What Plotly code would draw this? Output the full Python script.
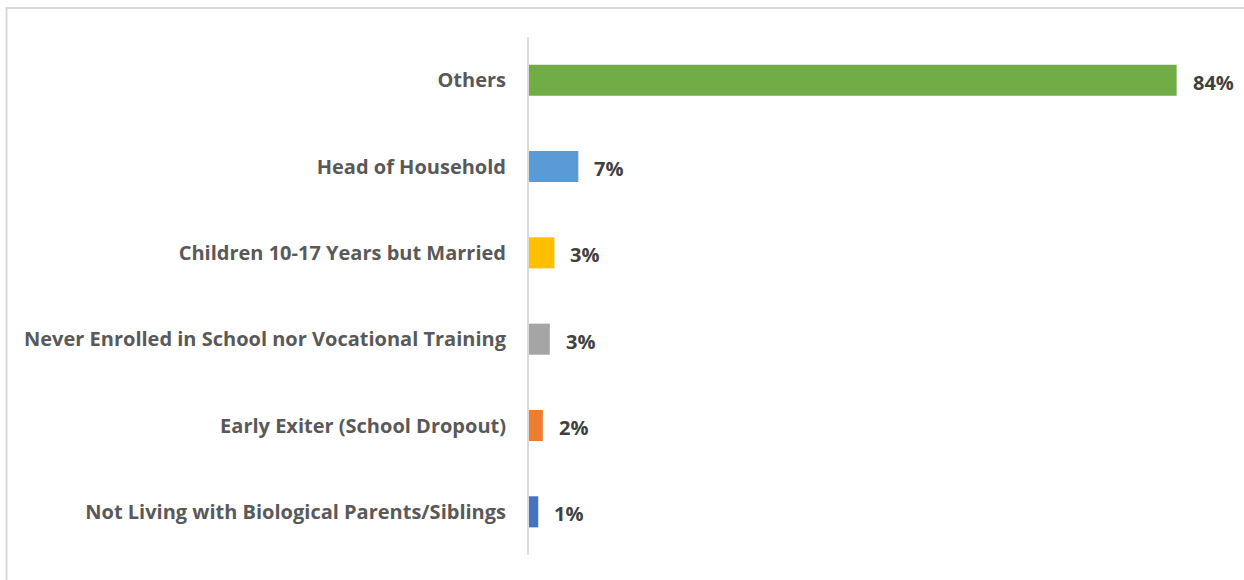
import plotly.graph_objects as go

categories = [
    "Not Living with Biological Parents/Siblings",
    "Early Exiter (School Dropout)",
    "Never Enrolled in School nor Vocational Training",
    "Children 10-17 Years but Married",
    "Head of Household",
    "Others",
]
values = [1.2, 1.8, 2.7, 3.3, 6.4, 84.0]
value_labels = ["1%", "2%", "3%", "3%", "7%", "84%"]
colors = ["#4472C4", "#ED7D31", "#A5A5A5", "#FFC000", "#5B9BD5", "#70AD47"]

W, H = 1244, 580
L, R, T, B = 529, 14, 37, 25
FONT = "Open Sans"
FS = 20

fig = go.Figure()
fig.add_trace(go.Bar(
    x=values, y=categories, orientation="h",
    marker=dict(color=colors, line=dict(width=0)),
    width=0.36, hoverinfo="x+y",
))

for v, c, t in zip(values, categories, value_labels):
    fig.add_annotation(x=v, y=c, text=t, showarrow=False, xanchor="left",
                       xshift=14, yshift=-2,
                       font=dict(family=FONT, size=20, color="#404040", weight="bold"))

pw = W - L - R
ph = H - T - B
fig.add_shape(type="rect", xref="paper", yref="paper",
              x0=(6.5 - L) / pw, x1=2, y0=-1, y1=1 + (T - 8) / ph,
              line=dict(color="#D9D9D9", width=2), fillcolor="rgba(0,0,0,0)", layer="below")

fig.update_layout(
    width=W, height=H,
    margin=dict(l=L, r=R, t=T, b=B, autoexpand=False),
    plot_bgcolor="white", paper_bgcolor="white",
    showlegend=False,
    bargap=0.64,
    xaxis=dict(range=[0, pw / 7.71], visible=False, fixedrange=True),
    yaxis=dict(
        categoryorder="array", categoryarray=categories,
        showline=True, linecolor="#D9D9D9", linewidth=2,
        ticks="", showgrid=False, ticklabelstandoff=17,
        tickfont=dict(family=FONT, size=FS, color="#595959", weight="bold"),
        automargin=False,
    ),
)

fig.write_html("out.html", config={"displayModeBar": False},
               post_script="document.body.style.margin='0';document.body.style.overflow='hidden';")
